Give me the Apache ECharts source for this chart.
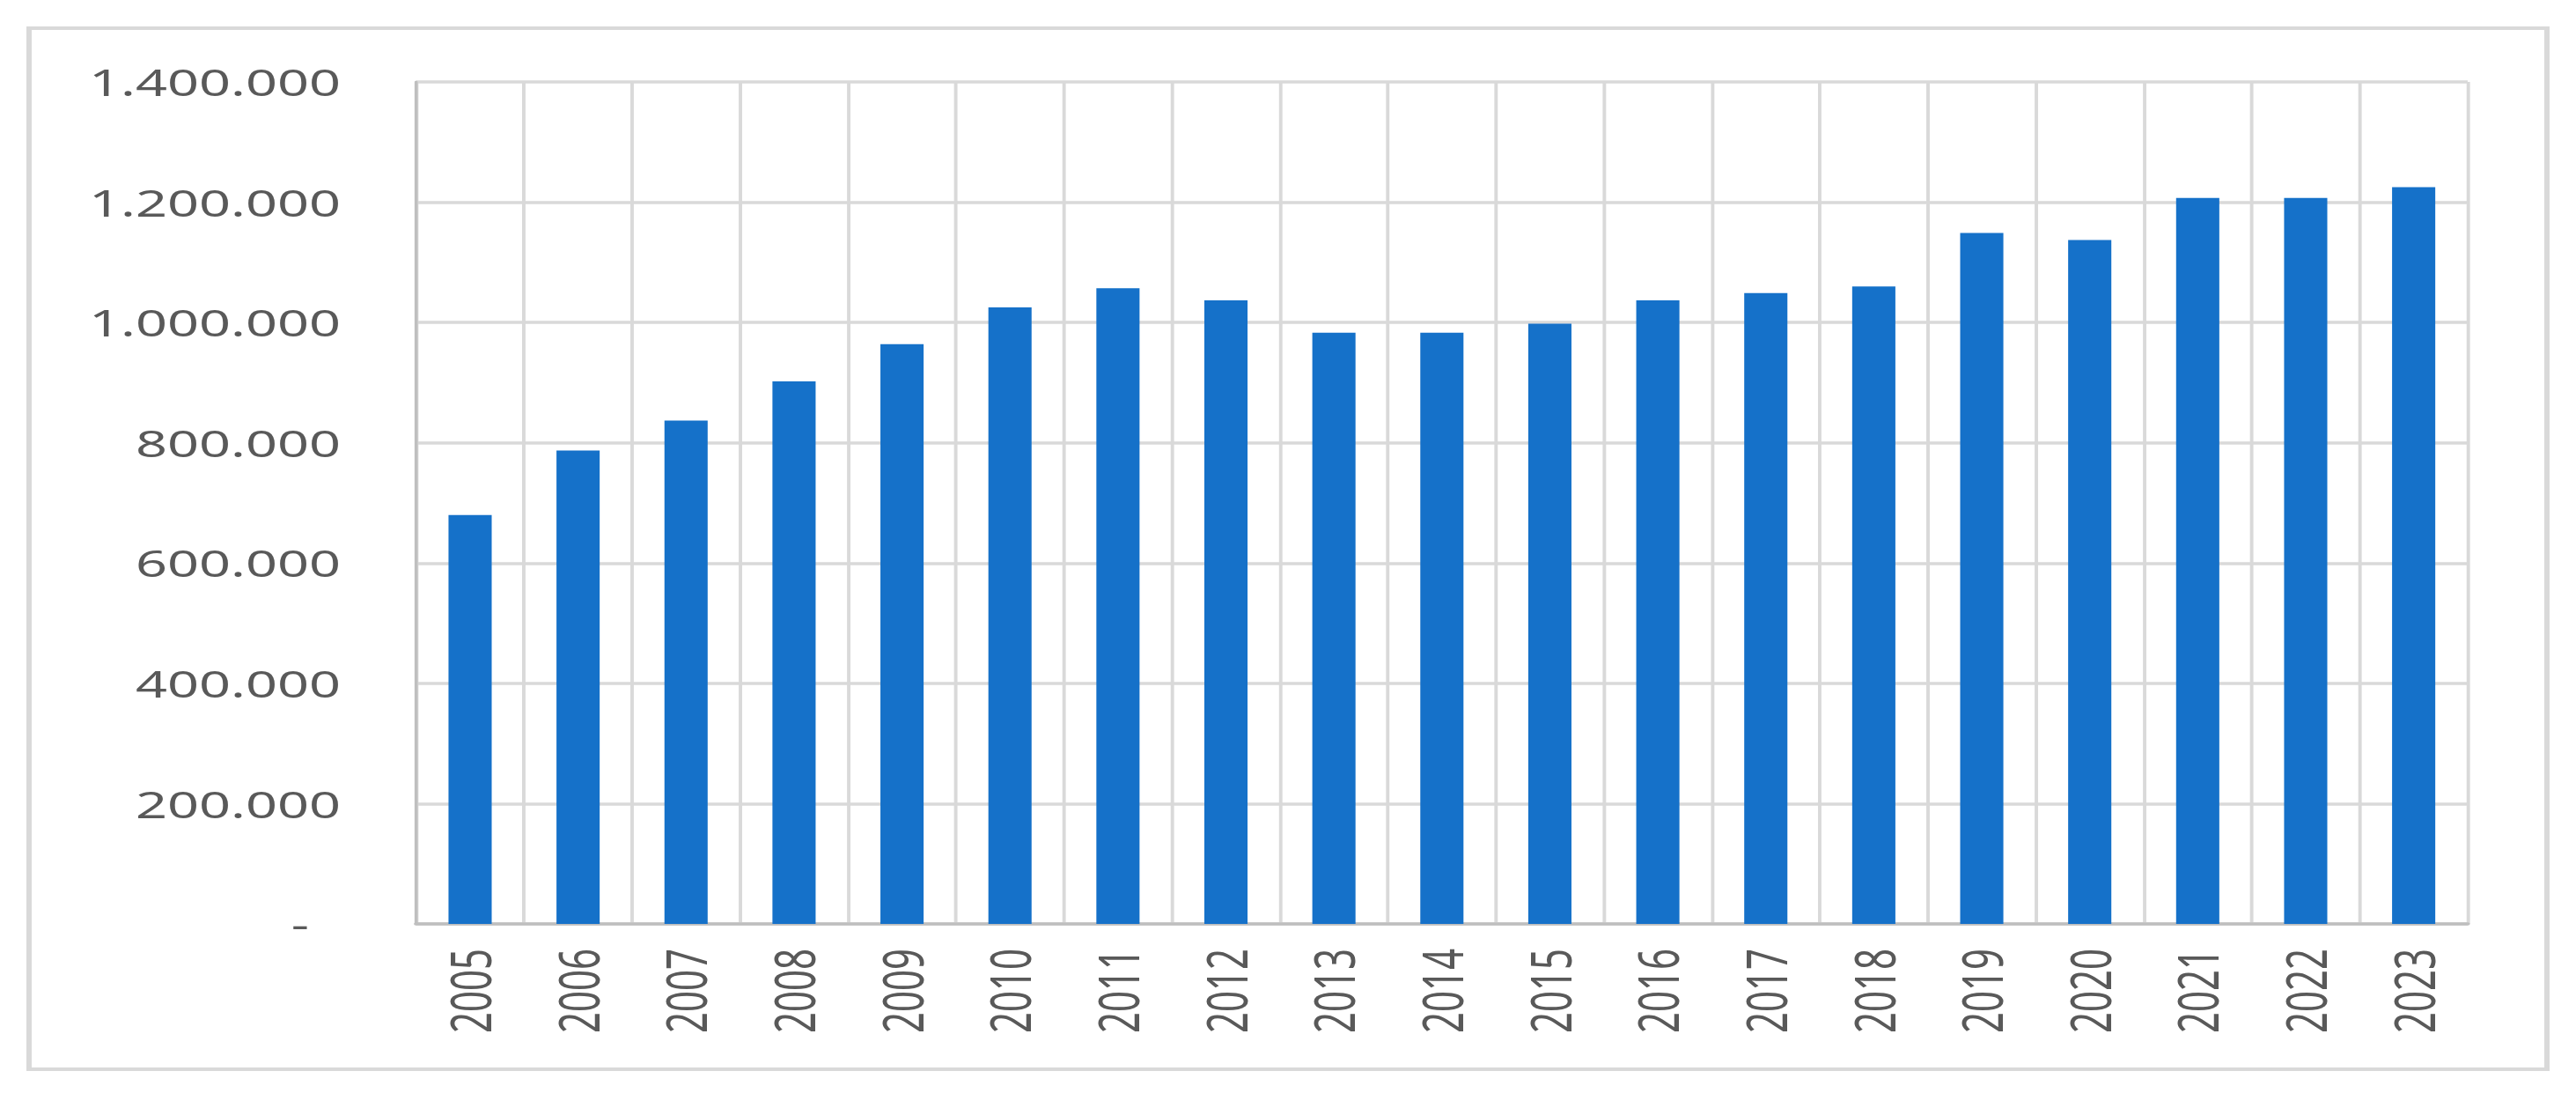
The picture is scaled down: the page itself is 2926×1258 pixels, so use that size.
<!DOCTYPE html>
<html>
<head>
<meta charset="utf-8">
<title>chart</title>
<script src="https://cdn.jsdelivr.net/npm/echarts@6/dist/echarts.min.js"></script>
<style>
    html, body { margin: 0; padding: 0; background: #fff; overflow: hidden; }
    /* the original picture is stretched sideways, so draw narrow and widen */
    #main {
        width: 1950px;
        height: 1258px;
        transform: scale(1.5005, 1);
        transform-origin: 0 0;
    }
</style>
</head>
<body>
<div id="main"></div>
<script>
var years = ['2005', '2006', '2007', '2008', '2009', '2010', '2011', '2012', '2013', '2014',
             '2015', '2016', '2017', '2018', '2019', '2020', '2021', '2022', '2023'];
var values = [680000, 787000, 837000, 902000, 964000, 1025000, 1057000, 1037000, 983000, 983000,
              998000, 1037000, 1049000, 1060000, 1149000, 1137000, 1207000, 1207000, 1225000];
var yTicks = [0, 200000, 400000, 600000, 800000, 1000000, 1200000, 1400000];

// 千位用点分隔, 0 显示为 "-"
function fmt(v) {
    if (v === 0) {
        return '{d|-}';
    }
    return String(v).replace(/\B(?=(\d{3})+(?!\d))/g, '.');
}

var chart = echarts.init(document.getElementById('main'), null, {renderer: 'svg'});

var option = {
    animation: false,
    backgroundColor: '#fff',
    textStyle: {
        fontFamily: 'Noto Sans'
    },
    graphic: [{
        type: 'rect',
        silent: true,
        shape: {x: 22, y: 32, width: 1906, height: 1182},
        style: {fill: 'none', stroke: '#d9d9d9', lineWidth: 4}
    }],
    grid: {
        left: 315,
        right: 82,
        top: 93,
        bottom: 209
    },
    xAxis: {
        type: 'category',
        data: years,
        boundaryGap: true,
        axisTick: {show: false},
        axisLine: {
            show: true,
            lineStyle: {color: '#bfbfbf', width: 3.5}
        },
        splitLine: {
            show: true,
            interval: 0,
            lineStyle: {color: '#d9d9d9', width: 2.6}
        },
        axisLabel: {
            interval: 0,
            rotate: 90,
            margin: 28,
            fontSize: 42,
            color: '#595959',
            fontFamily: 'Noto Sans'
        }
    },
    yAxis: {
        type: 'value',
        min: yTicks[0],
        max: yTicks[yTicks.length - 1],
        interval: yTicks[1] - yTicks[0],
        axisTick: {show: false},
        axisLine: {
            show: true,
            lineStyle: {color: '#bfbfbf', width: 2.4}
        },
        splitLine: {
            show: true,
            lineStyle: {color: '#d9d9d9', width: 3.5}
        },
        axisLabel: {
            margin: 57,
            fontSize: 42,
            color: '#595959',
            fontFamily: 'Noto Sans',
            formatter: fmt,
            rich: {
                d: {
                    fontSize: 42,
                    color: '#595959',
                    fontFamily: 'Noto Sans',
                    padding: [0, 24, 0, 0]
                }
            }
        }
    },
    series: [{
        type: 'bar',
        data: values,
        barWidth: '40%',
        itemStyle: {color: '#1571c9'}
    }]
};

chart.setOption(option);
</script>
</body>
</html>
